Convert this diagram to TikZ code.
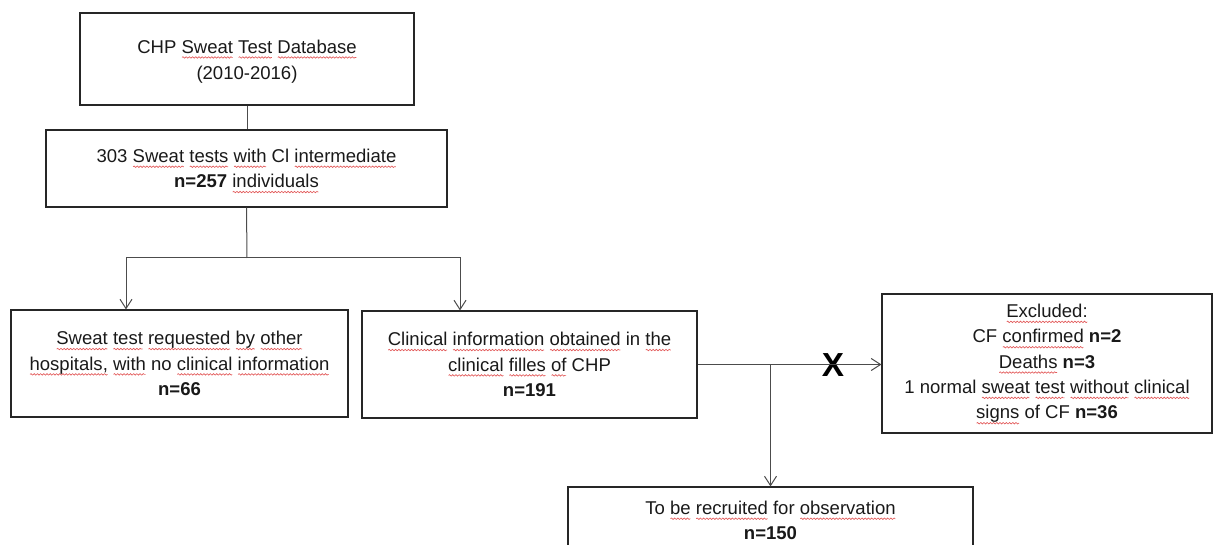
\documentclass[tikz,border=0pt]{standalone}
\usepackage{fontspec}
\setmainfont{Liberation Sans}
\usetikzlibrary{arrows.meta,decorations.pathmorphing}
\definecolor{sqred}{RGB}{226,90,90}
\newdimen\sqw
\newsavebox\sqbox
\newcommand\sq[1]{\sbox\sqbox{#1}\sqw=\wd\sqbox\leavevmode\rlap{\tikz[baseline=0pt,x=1pt,y=1pt]{\useasboundingbox (0,0) rectangle (\sqw,0);
  \draw[sqred,line width=0.5pt,decorate,decoration={snake,amplitude=0.55pt,segment length=2.4pt}] (0.3pt,-3.2pt) -- (\sqw-0.3pt,-3.2pt);}}\usebox\sqbox}
\begin{document}
\begin{tikzpicture}[x=0.75pt,y=-0.75pt,
  box/.style={draw=black!85,line width=0.8pt,inner sep=0pt,align=center,text=black!90,
    font=\fontsize{13.9}{19}\selectfont},
  conn/.style={draw=black!70,line width=0.75pt},
  arr/.style={conn,-{Straight Barb[length=7pt,width=9pt]}}]
\useasboundingbox (0,0) rectangle (1213,545);
\clip (0,0) rectangle (1213,545);

\node[box,minimum width=250.5pt,minimum height=69pt,font=\fontsize{13.9}{19.5}\selectfont] (b1) at (247,59)
  {\strut CHP \sq{Sweat} \sq{Test} \sq{Database}\\(2010-2016)};
\node[box,minimum width=300.75pt,minimum height=57.75pt] (b2) at (246.5,168.5)
  {303 \sq{Sweat} \sq{tests} \sq{with} Cl \sq{intermediate}\\\textbf{n=257} \sq{individuals}};
\node[box,minimum width=252.75pt,minimum height=80.25pt] (b3) at (179.5,363.5)
  {\sq{Sweat} \sq{test} \sq{requested} \sq{by} \sq{other}\\\sq{hospitals,} \sq{with} no \sq{clinical} \sq{information}\\\textbf{n=66}};
\node[box,minimum width=251.25pt,minimum height=80.25pt] (b4) at (529.5,364.5)
  {\sq{Clinical} \sq{information} \sq{obtained} in \sq{the}\\\sq{clinical} \sq{filles} \sq{of} CHP\\\textbf{n=191}};
\node[box,minimum width=247.5pt,minimum height=104.25pt] (b5) at (1047,363.5)
  {\sq{Excluded:}\\CF \sq{confirmed} \textbf{n=2}\\\sq{Deaths} \textbf{n=3}\\1 normal \sq{sweat} \sq{test} \sq{without} \sq{clinical}\\\sq{signs} of CF \textbf{n=36}};
\node[box,minimum width=303.75pt,minimum height=50.25pt] (b6) at (770.5,520.5)
  {To \sq{be} \sq{recruited} for \sq{observation}\\\textbf{n=150}};

\node[inner sep=0pt,text=black,font=\fontsize{25}{25}\selectfont\bfseries] (xm) at (833,365) {X};

\coordinate (j1) at (247,258);
\coordinate (t3) at (126,258);
\coordinate (t4) at (460,258);

\draw[conn] (b1.south) -- (b1.south |- b2.north);
\draw[conn] (b2.south) -- (j1);
\draw[arr] (j1) -| (t3 |- b3.north);
\draw[arr] (j1) -| (t4 |- b4.north);
\draw[arr] (b4.east) -- (b4.east -| b5.west);
\draw[arr] (b6.north |- b4.east) -- (b6.north);
\end{tikzpicture}
\end{document}
